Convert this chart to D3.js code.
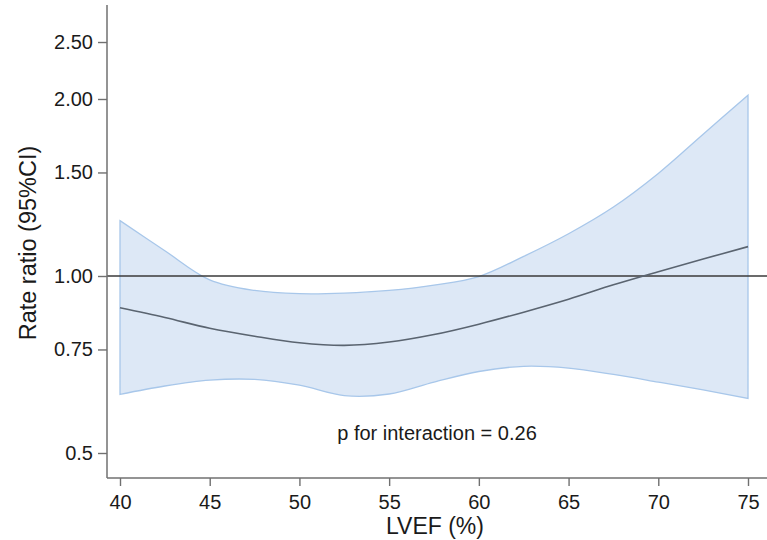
<!DOCTYPE html>
<html lang="en">
<head>
<meta charset="UTF-8">
<title>Rate ratio by LVEF</title>
<script src="https://cdnjs.cloudflare.com/ajax/libs/d3/7.8.5/d3.min.js"></script>
<style>
    body { margin: 0; background: #fff; }
    svg { display: block; font-family: "Liberation Sans", Arial, sans-serif; }
</style>
</head>
<body>
<svg id="chart" width="767" height="540"></svg>
<script>
// LVEF values (%) and the estimated rate ratio with its 95% CI
const lvef     = [40, 42.5, 45, 47.5, 50, 52.5, 55, 57.5, 60, 62.5, 65, 67.5, 70, 72.5, 75];
const estimate = [0.883, 0.850, 0.815, 0.790, 0.770, 0.762, 0.772, 0.795, 0.828, 0.868, 0.913, 0.966, 1.017, 1.069, 1.122];
const upper    = [1.242, 1.104, 0.985, 0.945, 0.933, 0.935, 0.945, 0.965, 0.998, 1.080, 1.180, 1.310, 1.494, 1.742, 2.030];
const lower    = [0.629, 0.650, 0.665, 0.667, 0.652, 0.626, 0.630, 0.660, 0.688, 0.702, 0.697, 0.680, 0.660, 0.640, 0.619];

const xTicks = [40, 45, 50, 55, 60, 65, 70, 75];
const yTicks = [0.5, 0.75, 1, 1.5, 2, 2.5];
const yTickLabels = ["0.5", "0.75", "1.00", "1.50", "2.00", "2.50"];

const svg = d3.select("#chart");

const x = d3.scaleLinear().domain([40, 75]).range([120, 748]);
const y = d3.scaleLog().domain([0.5, 2]).range([453, 99]);

const axisX = 107, axisY = 478, axisTop = 5;

const rows = lvef.map((v, i) => ({ x: v, est: estimate[i], lo: lower[i], hi: upper[i] }));

// confidence band
const band = d3.area()
    .x(d => x(d.x))
    .y0(d => y(d.lo))
    .y1(d => y(d.hi))
    .curve(d3.curveCatmullRom);

svg.append("path")
    .datum(rows)
    .attr("d", band)
    .attr("fill", "#dde8f6")
    .attr("stroke", "#a8c7ea")
    .attr("stroke-width", 1.3);

// reference line at 1
svg.append("line")
    .attr("x1", axisX).attr("x2", 767)
    .attr("y1", y(1)).attr("y2", y(1))
    .attr("stroke", "#3a3a3a")
    .attr("stroke-width", 1.6);

// estimate line
svg.append("path")
    .datum(rows)
    .attr("d", d3.line().x(d => x(d.x)).y(d => y(d.est)).curve(d3.curveCatmullRom))
    .attr("fill", "none")
    .attr("stroke", "#5a6470")
    .attr("stroke-width", 1.6);

// y axis
const yAxis = svg.append("g")
    .attr("transform", `translate(${axisX},0)`)
    .call(d3.axisLeft(y).tickValues(yTicks).tickFormat((d, i) => yTickLabels[i]).tickSize(9).tickPadding(5));
yAxis.select(".domain").remove();
yAxis.append("line")
    .attr("y1", axisTop).attr("y2", axisY)
    .attr("stroke", "#707070").attr("stroke-width", 1.5);

// x axis
const xAxis = svg.append("g")
    .attr("transform", `translate(0,${axisY})`)
    .call(d3.axisBottom(x).tickValues(xTicks).tickSize(8).tickPadding(9));
xAxis.select(".domain").remove();
xAxis.append("line")
    .attr("x1", axisX).attr("x2", 767)
    .attr("stroke", "#707070").attr("stroke-width", 1.5);

svg.selectAll(".tick line").attr("stroke", "#707070").attr("stroke-width", 1.4);
svg.selectAll(".tick text")
    .attr("font-size", 20)
    .attr("fill", "#1a1a1a")
    .attr("font-family", "'Liberation Sans', Arial, sans-serif");

// axis titles
svg.append("text")
    .attr("x", 435).attr("y", 534)
    .attr("text-anchor", "middle")
    .attr("font-size", 23)
    .attr("fill", "#1a1a1a")
    .text("LVEF (%)");

svg.append("text")
    .attr("transform", "translate(36,243) rotate(-90)")
    .attr("text-anchor", "middle")
    .attr("font-size", 23.5)
    .attr("fill", "#1a1a1a")
    .text("Rate ratio (95%CI)");

// annotation
svg.append("text")
    .attr("x", 437).attr("y", 440)
    .attr("text-anchor", "middle")
    .attr("font-size", 20)
    .attr("fill", "#1a1a1a")
    .text("p for interaction = 0.26");
</script>
</body>
</html>
